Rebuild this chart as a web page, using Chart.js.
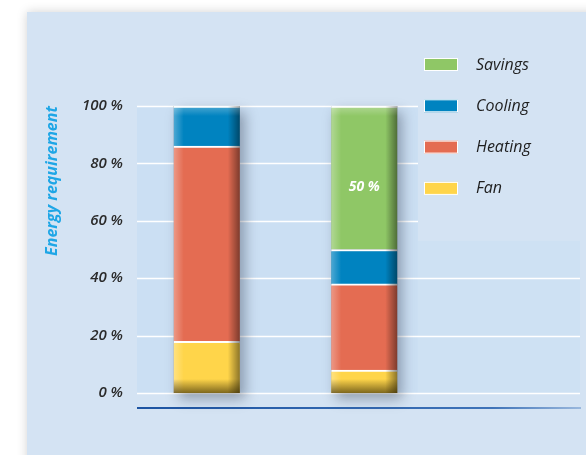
<!DOCTYPE html>
<html><head><meta charset="utf-8">
<script src="https://cdn.jsdelivr.net/npm/chart.js@4/dist/chart.umd.min.js"></script>
<style>html,body{margin:0;padding:0;background:#fff;overflow:hidden}</style>
</head><body>
<canvas id="c" width="586" height="455"></canvas>
<script>
const categories = ['Standard', 'Optimised'];
const fan = [18, 8];
const heating = [68, 30];
const cooling = [14, 12];
const savings = [0, 50];
const yTicks = [0, 20, 40, 60, 80, 100];
const seriesNames = ['Fan', 'Heating', 'Cooling', 'Savings'];
const seriesColors = ['#ffd54a', '#e46c52', '#0083c0', '#8fc766'];
const axisTitle = 'Energy requirement';

const FONT = "'Open Sans', 'DejaVu Sans', sans-serif";

const bgPlugin = {
  id: 'bg',
  beforeDraw(chart) {
    const ctx = chart.ctx, y = chart.scales.y;
    ctx.save();
    ctx.fillStyle = '#fff';
    ctx.fillRect(0, 0, chart.width, chart.height);
    ctx.shadowColor = 'rgba(0,0,0,0.18)';
    ctx.shadowBlur = 10;
    ctx.fillStyle = '#d4e3f3';
    ctx.fillRect(27, 12, chart.width, chart.height);
    ctx.shadowColor = 'transparent';
    const top = y.getPixelForValue(100), bot = y.getPixelForValue(0), mid = y.getPixelForValue(53);
    ctx.fillStyle = '#cbdff3';
    ctx.fillRect(137, top, 418 - 137, bot - top);
    ctx.fillStyle = '#cee1f3';
    ctx.fillRect(418, mid, 580 - 418, bot - mid);
    ctx.strokeStyle = '#ffffff';
    ctx.lineWidth = 1.5;
    yTicks.forEach(v => {
      const py = Math.round(y.getPixelForValue(v)) + 0.5;
      ctx.beginPath();
      ctx.moveTo(137, py);
      ctx.lineTo(v > 50 ? 418 : 580, py);
      ctx.stroke();
    });
    const ay = bot + 15;
    const g = ctx.createLinearGradient(137, 0, 581, 0);
    g.addColorStop(0, '#1d54a2');
    g.addColorStop(0.8, '#3f73b8');
    g.addColorStop(1, '#9ab8dd');
    ctx.strokeStyle = g;
    ctx.lineWidth = 2;
    ctx.beginPath();
    ctx.moveTo(137, ay);
    ctx.lineTo(581, ay);
    ctx.stroke();
    ctx.restore();
  }
};

function stackTotal(i) {
  return fan[i] + heating[i] + cooling[i] + savings[i];
}

const barFx = {
  id: 'barfx',
  beforeDatasetsDraw(chart) {
    const ctx = chart.ctx, y = chart.scales.y;
    const meta = chart.getDatasetMeta(0);
    ctx.save();
    meta.data.forEach((el, i) => {
      const left = el.x - el.width / 2;
      const top = y.getPixelForValue(stackTotal(i)), bot = y.getPixelForValue(0);
      ctx.shadowColor = 'rgba(20,30,50,0.35)';
      ctx.shadowBlur = 12;
      ctx.shadowOffsetX = 5;
      ctx.shadowOffsetY = 6;
      ctx.fillStyle = '#8a95a4';
      ctx.fillRect(left, top, el.width, bot - top);
    });
    ctx.restore();
  },
  afterDatasetsDraw(chart) {
    const ctx = chart.ctx, y = chart.scales.y;
    const meta = chart.getDatasetMeta(0);
    ctx.save();
    meta.data.forEach((el, i) => {
      const left = el.x - el.width / 2, right = el.x + el.width / 2, w = el.width;
      const top = y.getPixelForValue(stackTotal(i)), bot = y.getPixelForValue(0);
      let g = ctx.createLinearGradient(left, 0, left + 10, 0);
      g.addColorStop(0, 'rgba(255,255,255,0.3)');
      g.addColorStop(1, 'rgba(255,255,255,0)');
      ctx.fillStyle = g; ctx.fillRect(left, top, 10, bot - top);
      g = ctx.createLinearGradient(right - 12, 0, right, 0);
      g.addColorStop(0, 'rgba(0,0,0,0)');
      g.addColorStop(1, 'rgba(0,0,0,0.45)');
      ctx.fillStyle = g; ctx.fillRect(right - 12, top, 12, bot - top);
      g = ctx.createLinearGradient(0, top, 0, top + 10);
      g.addColorStop(0, 'rgba(255,255,255,0.3)');
      g.addColorStop(1, 'rgba(255,255,255,0)');
      ctx.fillStyle = g; ctx.fillRect(left, top, w, 10);
      g = ctx.createLinearGradient(0, bot - 14, 0, bot);
      g.addColorStop(0, 'rgba(40,30,0,0)');
      g.addColorStop(1, 'rgba(40,30,0,0.6)');
      ctx.fillStyle = g; ctx.fillRect(left, bot - 14, w, 14);
    });
    const sMeta = chart.getDatasetMeta(3);
    ctx.fillStyle = '#ffffff';
    ctx.font = "italic bold 14px " + FONT;
    ctx.textAlign = 'center';
    ctx.textBaseline = 'middle';
    sMeta.data.forEach((el, i) => {
      if (savings[i] > 0) {
        ctx.fillText(savings[i] + ' %', el.x, (el.y + el.base) / 2 + 9);
      }
    });
    ctx.restore();
  }
};

const legendPlugin = {
  id: 'customLegend',
  afterDraw(chart) {
    const ctx = chart.ctx;
    ctx.save();
    ctx.font = "italic 16px " + FONT;
    ctx.textBaseline = 'middle';
    ctx.textAlign = 'left';
    const ds = chart.data.datasets.slice().reverse();
    ds.forEach((d, k) => {
      const cy = 64 + k * 41.3;
      ctx.fillStyle = d.backgroundColor;
      ctx.fillRect(424, cy - 6, 34, 13);
      ctx.strokeStyle = '#ffffff';
      ctx.lineWidth = 1;
      ctx.strokeRect(424.5, cy - 5.5, 33, 12);
      ctx.fillStyle = '#1e1e1e';
      ctx.fillText(d.label, 476, cy + 1);
    });
    ctx.restore();
  }
};

const seriesData = [fan, heating, cooling, savings];
const datasets = seriesNames.map((name, k) => ({
  label: name,
  data: seriesData[k],
  backgroundColor: seriesColors[k],
  borderColor: '#ffffff',
  borderWidth: {top: 2, left: 0, right: 0, bottom: 0},
  borderSkipped: 'start',
  barThickness: 66,
  stack: 's'
}));

new Chart(document.getElementById('c'), {
  type: 'bar',
  data: { labels: categories, datasets },
  plugins: [bgPlugin, barFx, legendPlugin],
  options: {
    responsive: false,
    animation: false,
    devicePixelRatio: 1,
    layout: { padding: { left: 0, right: 143, top: 106, bottom: 62 } },
    plugins: { legend: { display: false }, tooltip: { enabled: false } },
    scales: {
      x: { stacked: true, display: false },
      y: {
        stacked: true,
        min: 0, max: 100,
        afterFit(s) { s.width = 128; },
        afterBuildTicks(s) { s.ticks = yTicks.map(v => ({ value: v })); },
        grid: { display: false, drawTicks: false },
        border: { display: false },
        ticks: {
          padding: 5,
          color: '#2a2a2a',
          font: { family: FONT, size: 15, style: 'italic', weight: '600' },
          callback: v => v + ' %'
        },
        title: {
          display: true,
          text: axisTitle,
          align: 'end',
          color: '#1ea6e6',
          font: { family: FONT, size: 16, style: 'italic', weight: 'bold' },
          padding: { top: 43, bottom: 0 }
        }
      }
    }
  }
});
</script>
</body></html>
